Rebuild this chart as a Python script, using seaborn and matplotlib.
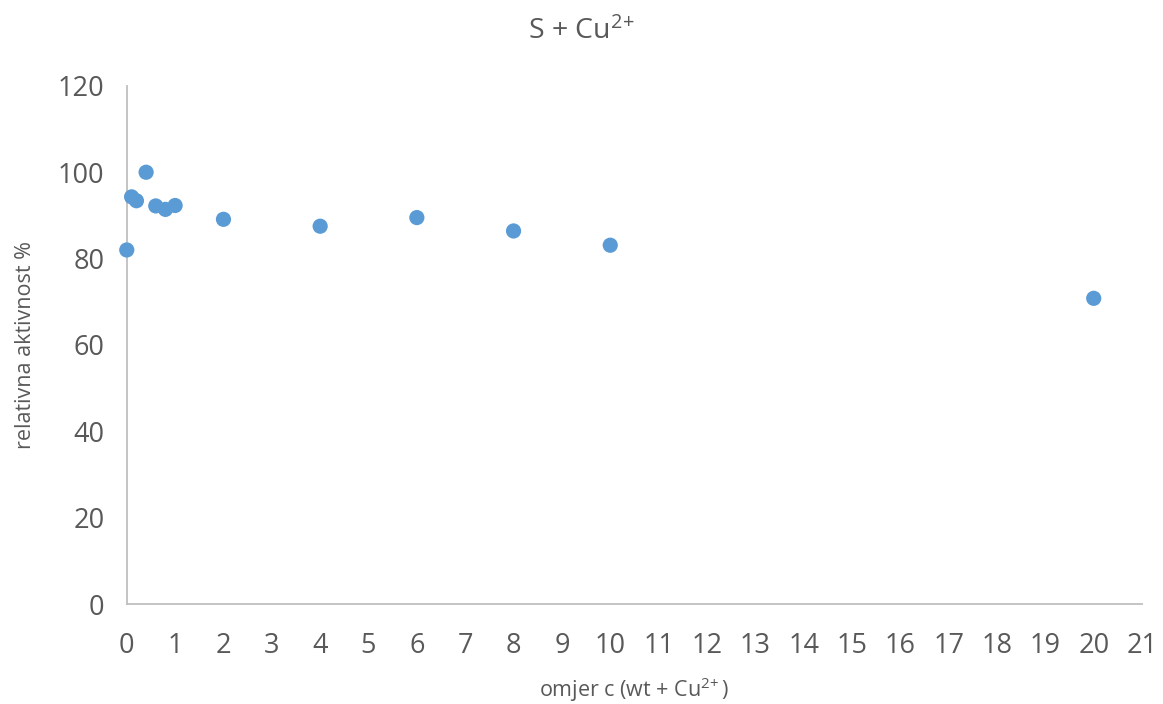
import matplotlib
matplotlib.use("Agg")
import matplotlib.pyplot as plt
import seaborn as sns
import pandas as pd

# omjer c vs relativna aktivnost
omjer = [0, 0.1, 0.2, 0.4, 0.6, 0.8, 1, 2, 4, 6, 8, 10, 20]
aktivnost = [82.0, 94.3, 93.4, 100.0, 92.2, 91.4, 92.3, 89.1, 87.5, 89.5, 86.4, 83.1, 70.8]

df = pd.DataFrame({"omjer": omjer, "aktivnost": aktivnost})

sns.set_style("white")
plt.rcParams["font.family"] = ["Open Sans", "DejaVu Sans"]
plt.rcParams["mathtext.fontset"] = "custom"
plt.rcParams["mathtext.rm"] = "Open Sans"
plt.rcParams["mathtext.it"] = "Open Sans"
plt.rcParams["mathtext.default"] = "regular"

grey = "#595959"

fig = plt.figure(figsize=(11.63, 7.04), dpi=100)
ax = fig.add_axes([0.109, 0.142, 0.873, 0.736])

sns.scatterplot(data=df, x="omjer", y="aktivnost", color="#5B9BD5",
                s=120, edgecolor="none", ax=ax, zorder=3, clip_on=False)

ax.set_xlim(0, 21)
ax.set_ylim(0, 120)
ax.set_xticks(range(0, 22))
ax.set_yticks(range(0, 121, 20))
ax.tick_params(length=0, labelsize=19.5, colors=grey)
ax.tick_params(axis="x", pad=20)
ax.tick_params(axis="y", pad=16)

for s in ["top", "right"]:
    ax.spines[s].set_visible(False)
for s in ["left", "bottom"]:
    ax.spines[s].set_color("#BFBFBF")
    ax.spines[s].set_linewidth(1.3)

ax.set_xlabel(r"omjer c (wt + Cu$^{2\!+}$)", fontsize=15.5, color=grey, va="center")
ax.xaxis.set_label_coords(0.5, -0.166)
ax.set_ylabel("relativna aktivnost %", fontsize=15.5, color=grey, va="center")
ax.yaxis.set_label_coords(-0.1, 0.5)
fig.text(0.5, 0.955, r"S + Cu$^{2\!+}$", ha="center", va="center", fontsize=20.5, color=grey)

plt.savefig("out.png", dpi=100)
